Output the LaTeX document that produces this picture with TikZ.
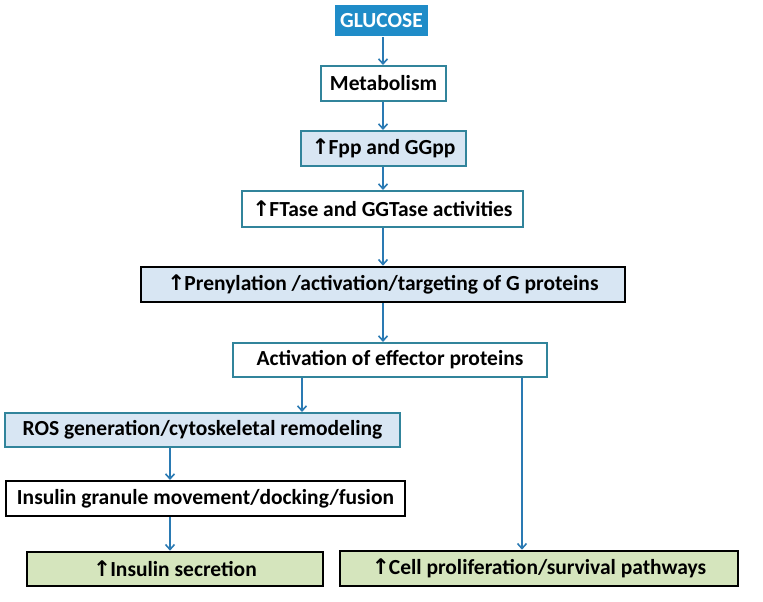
\documentclass[tikz,border=0pt]{standalone}
\usepackage{fontspec}
\setmainfont{Carlito}
\newfontfamily\symfont{DejaVu Sans}
\usepackage{tikz}
\usetikzlibrary{
  positioning,
  calc,
  arrows.meta
}
\definecolor{glucblue}{HTML}{1F8CC8}
\definecolor{tealline}{HTML}{31849B}
\definecolor{arrowblue}{HTML}{2A7AB3}
\definecolor{paleblue}{HTML}{D8E6F3}
\definecolor{palegreen}{HTML}{D5E5BD}
\tikzstyle{box}=[draw=tealline, line width=2pt, fill=white, inner sep=0pt,
  font=\fontsize{21.5}{25}\selectfont\bfseries]
\tikzstyle{bluebox}=[box, fill=paleblue]
\tikzstyle{darkbox}=[box, draw=black, line width=2.6pt]
\tikzstyle{greenbox}=[darkbox, fill=palegreen]
\tikzstyle{flow}=[->, >={Straight Barb[length=5pt,width=9pt,line width=1.6pt]},
  draw=arrowblue, line width=1.6pt]
\newcommand{\up}{{\symfont\bfseries\char"2191}\kern-1pt}

\begin{document}
\begin{tikzpicture}[x=1pt,y=-1pt]
  \useasboundingbox (0,0) rectangle (763,602);

  % main column
  \node[box, fill=glucblue, draw=none, text=white, minimum width=93pt, minimum height=31pt]
    (gluc) at (381.5,21) {GLUCOSE};
  \node[box, minimum width=125pt, minimum height=35pt] (metab) at (383.5,83.5) {Metabolism};
  \node[bluebox, minimum width=165pt, minimum height=35pt] (fpp) at (383.5,148.5) {\up Fpp and GGpp};
  \node[box, minimum width=281pt, minimum height=36pt] (ftase) at (382.5,209) {\up FTase and GGTase activities};
  \node[darkbox, fill=paleblue, minimum width=484pt, minimum height=35pt] (prenyl) at (383,284.5)
    {\up Prenylation /activation/targeting of G proteins};
  \node[box, minimum width=314pt, minimum height=34pt] (effect) at (390,360) {Activation of effector proteins};

  % left branch
  \node[bluebox, minimum width=395pt, minimum height=34pt] (ros) at (202.5,430)
    {ROS generation/cytoskeletal remodeling};
  \node[box, draw=black, minimum width=399pt, minimum height=35pt] (granule) at (205.5,498.5)
    {Insulin granule movement/docking/fusion};
  \node[greenbox, minimum width=296pt, minimum height=34pt] (secret) at (175,569) {\up Insulin secretion};

  % right branch
  \node[greenbox, minimum width=398pt, minimum height=35pt] (prolif) at (539,568.5)
    {\up Cell proliferation/survival pathways};

  % x positions of the arrows
  \coordinate (mainx) at (383,0);
  \coordinate (rosx) at (302,0);
  \coordinate (prolx) at (522,0);
  \coordinate (leftx) at (170,0);

  % arrows
  \draw[flow] (gluc.south -| mainx) -- (metab.north -| mainx);
  \draw[flow] (metab.south -| mainx) -- (fpp.north -| mainx);
  \draw[flow] (fpp.south -| mainx) -- (ftase.north -| mainx);
  \draw[flow] (ftase.south -| mainx) -- (prenyl.north -| mainx);
  \draw[flow] (prenyl.south -| mainx) -- (effect.north -| mainx);
  \draw[flow] (effect.south -| rosx) -- (ros.north -| rosx);
  \draw[flow] (effect.south -| prolx) -- (prolif.north -| prolx);
  \draw[flow] (ros.south -| leftx) -- (granule.north -| leftx);
  \draw[flow] (granule.south -| leftx) -- (secret.north -| leftx);
\end{tikzpicture}
\end{document}
